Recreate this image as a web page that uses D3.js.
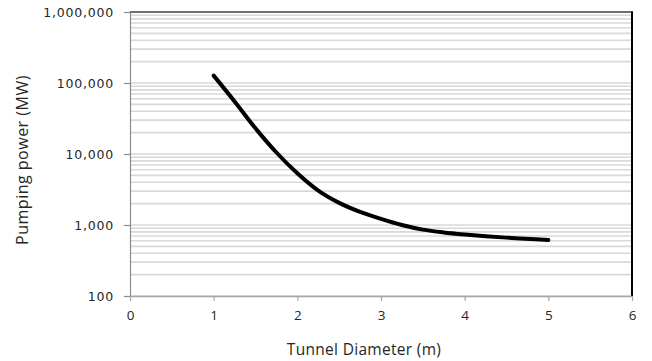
<!DOCTYPE html>
<html><head><meta charset="utf-8">
<script src="https://cdn.jsdelivr.net/npm/d3@7/dist/d3.min.js"></script>
<style>html,body{margin:0;padding:0;background:#fff;}svg{display:block;}</style>
</head><body>
<script>
// Data
const diameters = [1.0, 1.25, 1.5, 1.75, 2.0, 2.25, 2.5, 2.75, 3.0, 3.25, 3.5, 3.75, 4.0, 4.5, 5.0];
const pumpingPower = [127000, 55000, 23000, 10500, 5350, 3050, 2050, 1530, 1220, 1000, 860, 785, 736, 664, 615];
const xTicks = [0, 1, 2, 3, 4, 5, 6];
const yTicks = [100, 1000, 10000, 100000, 1000000];
const yTickLabels = ["100", "1,000", "10,000", "100,000", "1,000,000"];
const xTitle = "Tunnel Diameter (m)";
const yTitle = "Pumping power (MW)";

const W = 652, H = 361;
const m = {left: 130, right: 20, top: 12, bottom: 65};
const svg = d3.select("body").append("svg").attr("width", W).attr("height", H);

const x = d3.scaleLinear().domain([0, 6]).range([m.left, W - m.right]);
const y = d3.scaleLog().domain([100, 1000000]).range([H - m.bottom, m.top]);

// minor + major gridlines
const gridVals = [];
for (let d = 100; d < 1000000; d *= 10) for (let k = 1; k <= 9; k++) gridVals.push(k * d);
svg.append("g").selectAll("line").data(gridVals).join("line")
  .attr("x1", x(0)).attr("x2", x(6))
  .attr("y1", d => y(d)).attr("y2", d => y(d))
  .attr("stroke", "#d9d9d9").attr("stroke-width", 1.6);

// top border
svg.append("line").attr("x1", x(0)).attr("x2", x(6)).attr("y1", y(1000000)).attr("y2", y(1000000))
  .attr("stroke", "#3f3f3f").attr("stroke-width", 1.6);
// right border
svg.append("line").attr("x1", x(6)).attr("x2", x(6)).attr("y1", y(1000000) - 0.8).attr("y2", y(100))
  .attr("stroke", "#000").attr("stroke-width", 2);

// y axis
const yAxis = d3.axisLeft(y).tickValues(yTicks).tickFormat((d, i) => yTickLabels[i]).tickSize(6).tickSizeOuter(0);
const gy = svg.append("g").attr("transform", `translate(${x(0)},0)`).call(yAxis);
gy.select(".domain").attr("stroke", "#8c8c8c").attr("stroke-width", 1.2);
gy.selectAll(".tick line").attr("stroke", "#8c8c8c").attr("stroke-width", 1.2);
gy.selectAll(".tick text").attr("x", -16).attr("fill", "#262626")
  .style("font-family", "DejaVu Sans").style("font-size", "12.5px").style("letter-spacing", "0.8px");

// x axis
const xAxis = d3.axisBottom(x).tickValues(xTicks).tickFormat(d3.format("d")).tickSize(5).tickSizeOuter(0);
const gx = svg.append("g").attr("transform", `translate(0,${y(100)})`).call(xAxis);
gx.select(".domain").attr("stroke", "#a6a6a6").attr("stroke-width", 1.6);
gx.selectAll(".tick line").attr("stroke", "#a6a6a6").attr("stroke-width", 1.2);
gx.selectAll(".tick text").attr("y", 14).attr("fill", "#262626")
  .style("font-family", "Open Sans").style("font-size", "13.5px");

// line
const line = d3.line().x((d, i) => x(diameters[i])).y(d => y(d)).curve(d3.curveCatmullRom.alpha(0.5));
svg.append("path").datum(pumpingPower).attr("d", line)
  .attr("fill", "none").attr("stroke", "#000").attr("stroke-width", 4)
  .attr("stroke-linecap", "round").attr("stroke-linejoin", "round");

// titles
svg.append("text").attr("x", 364).attr("y", 355).attr("text-anchor", "middle")
  .attr("fill", "#262626").style("font-family", "Open Sans").style("font-size", "15.5px")
  .style("letter-spacing", "0.3px").text(xTitle);
svg.append("text").attr("transform", `translate(28,160) rotate(-90)`).attr("text-anchor", "middle")
  .attr("fill", "#262626").style("font-family", "Open Sans").style("font-size", "16px")
  .style("letter-spacing", "0.5px").text(yTitle);
</script>
</body></html>
